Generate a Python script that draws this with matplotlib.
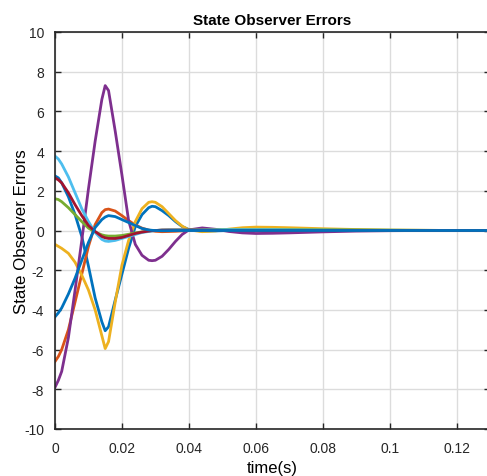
import numpy as np
import matplotlib
matplotlib.use('Agg')
import matplotlib.pyplot as plt

plt.rcParams['font.family'] = ['Liberation Sans', 'DejaVu Sans']
plt.rcParams['axes.unicode_minus'] = False

# time samples (s)
t = [0, 0.001, 0.002, 0.004, 0.006, 0.008, 0.010, 0.012, 0.014, 0.015,
     0.016, 0.018, 0.020, 0.022, 0.024, 0.026, 0.028, 0.029, 0.030, 0.032,
     0.034, 0.036, 0.038, 0.040, 0.044, 0.048, 0.052, 0.056, 0.060, 0.065,
     0.070, 0.080, 0.090, 0.100, 0.110, 0.120, 0.130]

# observer errors, one list per state
e1 = [2.75, 2.65, 2.4, 1.7, 0.8, -0.3, -1.8, -3.4, -4.6, -5.05,
      -4.85, -3.5, -2.2, -0.9, 0.2, 0.8, 1.15, 1.22, 1.2, 1.0,
      0.75, 0.45, 0.2, 0.05, -0.03, -0.02, 0.0, 0.02, 0.03, 0.03,
      0.02, 0.01, 0.0, 0.0, 0.0, 0.0, 0.0]
e2 = [-6.6, -6.35, -6.0, -5.0, -3.6, -2.2, -0.8, 0.3, 0.9, 1.05,
      1.08, 0.98, 0.75, 0.5, 0.28, 0.12, 0.02, -0.01, -0.04, -0.06,
      -0.05, -0.04, -0.02, 0.0, 0.02, 0.02, 0.01, 0, 0, 0,
      0, 0, 0, 0, 0, 0, 0]
e3 = [-0.7, -0.8, -0.9, -1.15, -1.6, -2.25, -3.0, -4.0, -5.3, -5.95,
      -5.6, -3.6, -1.75, -0.5, 0.45, 1.1, 1.42, 1.45, 1.42, 1.2,
      0.85, 0.5, 0.22, 0.03, -0.06, -0.02, 0.07, 0.14, 0.17, 0.16,
      0.14, 0.09, 0.05, 0.02, 0.01, 0, 0]
e4 = [-7.9, -7.55, -7.1, -5.4, -3.0, -0.5, 2.1, 4.5, 6.6, 7.3,
      7.05, 5.0, 2.8, 0.5, -0.7, -1.25, -1.5, -1.52, -1.5, -1.3,
      -0.95, -0.55, -0.2, 0.03, 0.13, 0.06, -0.05, -0.12, -0.15, -0.14,
      -0.12, -0.07, -0.03, -0.01, 0, 0, 0]
e5 = [1.6, 1.56, 1.45, 1.15, 0.8, 0.45, 0.12, -0.08, -0.22, -0.26,
      -0.28, -0.28, -0.25, -0.19, -0.12, -0.07, -0.03, -0.01, 0.0, 0.02,
      0.03, 0.03, 0.03, 0.03, 0.03, 0.04, 0.05, 0.05, 0.05, 0.05,
      0.05, 0.04, 0.03, 0.02, 0.01, 0, 0]
e6 = [3.75, 3.6, 3.35, 2.7, 1.9, 1.1, 0.45, -0.1, -0.45, -0.53,
      -0.55, -0.5, -0.4, -0.3, -0.2, -0.1, -0.05, -0.02, 0.0, 0.02,
      0.03, 0.03, 0.03, 0.02, 0.02, 0.03, 0.04, 0.04, 0.04, 0.04,
      0.03, 0.02, 0.01, 0.01, 0, 0, 0]
e7 = [2.65, 2.55, 2.4, 1.9, 1.3, 0.75, 0.25, -0.05, -0.3, -0.37,
      -0.4, -0.4, -0.35, -0.25, -0.15, -0.08, -0.03, -0.01, 0.0, 0.02,
      0.02, 0.02, 0.02, 0.02, 0.01, 0.01, 0.0, 0, 0, 0,
      0, 0, 0, 0, 0, 0, 0]
e8 = [-4.35, -4.15, -3.9, -3.2, -2.4, -1.5, -0.6, 0.15, 0.55, 0.68,
      0.75, 0.7, 0.55, 0.4, 0.25, 0.1, 0.03, 0.01, 0.0, -0.01,
      -0.01, 0, 0, 0, 0, 0, 0, 0, 0, 0,
      0, 0, 0, 0, 0, 0, 0]

# MATLAB default colour order
colors = ['#0072BD', '#D95319', '#EDB120', '#7E2F8E',
          '#77AC30', '#4DBEEE', '#A2142F', '#0072BD']

fig = plt.figure(figsize=(4.87, 4.77), dpi=100)
ax = fig.add_axes([55 / 487, 47 / 477, 435 / 487, 397 / 477])

for e, c in zip([e1, e2, e3, e4, e5, e6, e7, e8], colors):
    ax.plot(t, e, color=c, lw=2.0)

ax.set_xlim(0, 0.13)
ax.set_ylim(-10, 10)
ax.set_xticks(np.arange(0, 0.13, 0.02))
ax.set_xticklabels(['0', '0.02', '0.04', '0.06', '0.08', '0.1', '0.12'])
ax.set_yticks(np.arange(-10, 11, 2))

ax.grid(True, color='#dcdcdc', lw=1.0)
ax.set_axisbelow(True)
ax.tick_params(direction='in', top=True, right=True, length=4,
               width=1.0, labelsize=10, color='#262626', labelcolor='#262626')
ax.tick_params(axis='x', pad=9)
ax.tick_params(axis='y', pad=8)
for s in ax.spines.values():
    s.set_color('#262626')
    s.set_linewidth(1.2)

ax.set_title('State Observer Errors', fontsize=11, fontweight='bold', pad=6)
ax.set_xlabel('time(s)', fontsize=12, labelpad=3)
ax.set_ylabel('State Observer Errors', fontsize=12.2, labelpad=-4)

fig.savefig('out.png', dpi=100)
